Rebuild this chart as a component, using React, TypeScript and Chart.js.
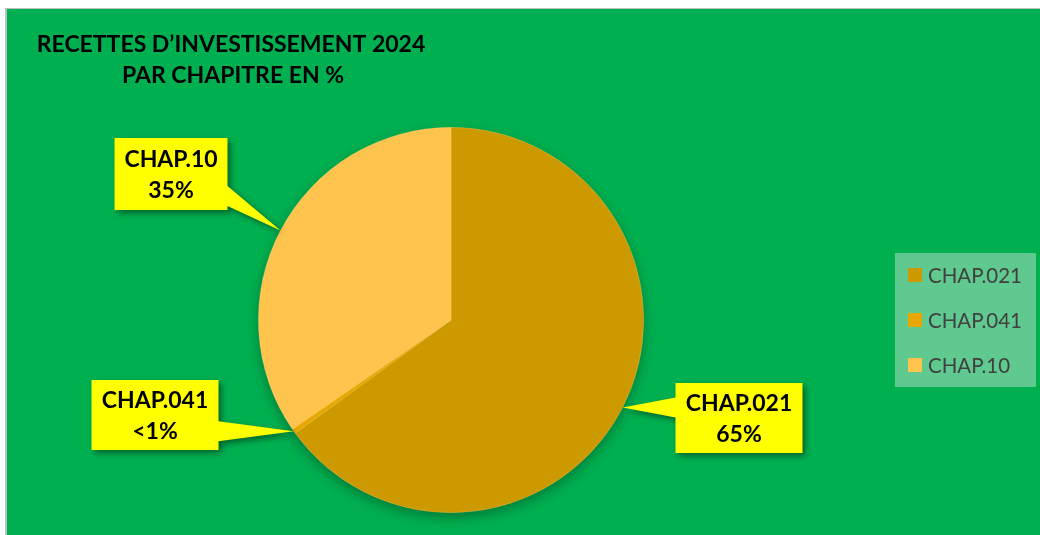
import React, { useEffect, useRef } from 'react';
import { Chart, registerables } from 'chart.js';

Chart.register(...registerables);

const titleLines = ['RECETTES D\u2019INVESTISSEMENT 2024', 'PAR CHAPITRE EN %'];
const categories = ['CHAP.021', 'CHAP.041', 'CHAP.10'];
const values = [65.0, 0.4, 34.6];
const percentLabels = ['65%', '<1%', '35%'];
const sliceColors = ['#CC9900', '#E6A800', '#FFC44D'];

const FONT = 'Lato, "Liberation Sans", sans-serif';
const W = 1033;
const H = 526;

// callout box placement relative to pie centre (style/layout only)
const calloutLayout = [
  { dx: 288, dy: 98, w: 127, h: 70, side: 'left' },
  { dx: -296, dy: 95, w: 127, h: 70, side: 'right' },
  { dx: -280, dy: -146, w: 113, h: 72, side: 'right' },
];

const decorPlugin = {
  id: 'decor',
  beforeDatasetsDraw(chart: any) {
    const ctx = chart.ctx;
    const arc = chart.getDatasetMeta(0).data[0];
    if (!arc) return;
    ctx.save();
    ctx.shadowColor = 'rgba(0,0,0,0.35)';
    ctx.shadowBlur = 14;
    ctx.shadowOffsetY = 5;
    ctx.beginPath();
    ctx.arc(arc.x, arc.y, arc.outerRadius - 1, 0, Math.PI * 2);
    ctx.fillStyle = '#CC9900';
    ctx.fill();
    ctx.restore();
  },
  afterDraw(chart: any) {
    const ctx = chart.ctx;
    // title
    ctx.save();
    ctx.fillStyle = '#000';
    ctx.font = `bold 23px ${FONT}`;
    ctx.textAlign = 'center';
    ctx.textBaseline = 'middle';
    ctx.fillText(titleLines[0], 224, 36);
    ctx.fillText(titleLines[1], 226, 67);
    ctx.restore();

    // legend
    ctx.save();
    ctx.fillStyle = '#5FC98F';
    ctx.fillRect(888, 244, 141, 134);
    const rows = [266, 311, 356];
    ctx.font = `20.5px ${FONT}`;
    ctx.textBaseline = 'middle';
    ctx.textAlign = 'left';
    categories.forEach((c, i) => {
      ctx.fillStyle = sliceColors[i];
      ctx.fillRect(901, rows[i] - 7, 14, 14);
      ctx.fillStyle = '#404040';
      ctx.fillText(c, 921, rows[i] + 1);
    });
    ctx.restore();

    // callouts
    const meta = chart.getDatasetMeta(0);
    meta.data.forEach((arc: any, i: number) => {
      const L = calloutLayout[i];
      const mid = (arc.startAngle + arc.endAngle) / 2;
      const ax = arc.x + Math.cos(mid) * arc.outerRadius;
      const ay = arc.y + Math.sin(mid) * arc.outerRadius;
      const cx = arc.x + L.dx;
      const cy = arc.y + L.dy;
      const l = cx - L.w / 2, r = cx + L.w / 2, t = cy - L.h / 2, b = cy + L.h / 2;
      const bc = Math.min(Math.max(ay, t + 14), b - 14);
      const b1 = bc - 10, b2 = bc + 10;
      ctx.save();
      ctx.beginPath();
      if (L.side === 'right') {
        ctx.moveTo(l, t);
        ctx.lineTo(r, t);
        ctx.lineTo(r, b1);
        ctx.lineTo(ax, ay);
        ctx.lineTo(r, b2);
        ctx.lineTo(r, b);
        ctx.lineTo(l, b);
      } else {
        ctx.moveTo(l, t);
        ctx.lineTo(r, t);
        ctx.lineTo(r, b);
        ctx.lineTo(l, b);
        ctx.lineTo(l, b2);
        ctx.lineTo(ax, ay);
        ctx.lineTo(l, b1);
      }
      ctx.closePath();
      ctx.shadowColor = 'rgba(0,0,0,0.45)';
      ctx.shadowBlur = 6;
      ctx.shadowOffsetX = 3;
      ctx.shadowOffsetY = 3;
      ctx.fillStyle = '#FFFF00';
      ctx.fill();
      ctx.restore();

      ctx.save();
      ctx.fillStyle = '#000';
      ctx.font = `bold 23px ${FONT}`;
      ctx.textAlign = 'center';
      ctx.textBaseline = 'middle';
      ctx.fillText(categories[i], cx, cy - 14);
      ctx.fillText(percentLabels[i], cx, cy + 17);
      ctx.restore();
    });
  },
};

export default function App() {
  const ref = useRef<HTMLCanvasElement | null>(null);
  useEffect(() => {
    if (!ref.current) return;
    const chart = new Chart(ref.current, {
      type: 'pie',
      data: {
        labels: categories,
        datasets: [
          {
            data: values,
            backgroundColor: sliceColors,
            borderColor: 'rgba(255,230,150,0.35)',
            borderWidth: 0.7,
          },
        ],
      },
      options: {
        responsive: false,
        animation: false,
        layout: { padding: { left: 251, right: 396, top: 118, bottom: 22 } },
        plugins: {
          legend: { display: false },
          title: { display: false },
          tooltip: { enabled: false },
        },
      },
      plugins: [decorPlugin],
    });
    return () => chart.destroy();
  }, []);

  return (
    <div
      style={{
        position: 'absolute',
        left: 5,
        top: 8,
        width: 1035,
        height: 527,
        borderTop: '1px solid #bfbfbf',
        borderLeft: '2px solid #bfbfbf',
        background: '#00B050',
        boxSizing: 'border-box',
        overflow: 'hidden',
      }}
    >
      <canvas ref={ref} width={W} height={H} style={{ display: 'block', width: W, height: H }} />
    </div>
  );
}
